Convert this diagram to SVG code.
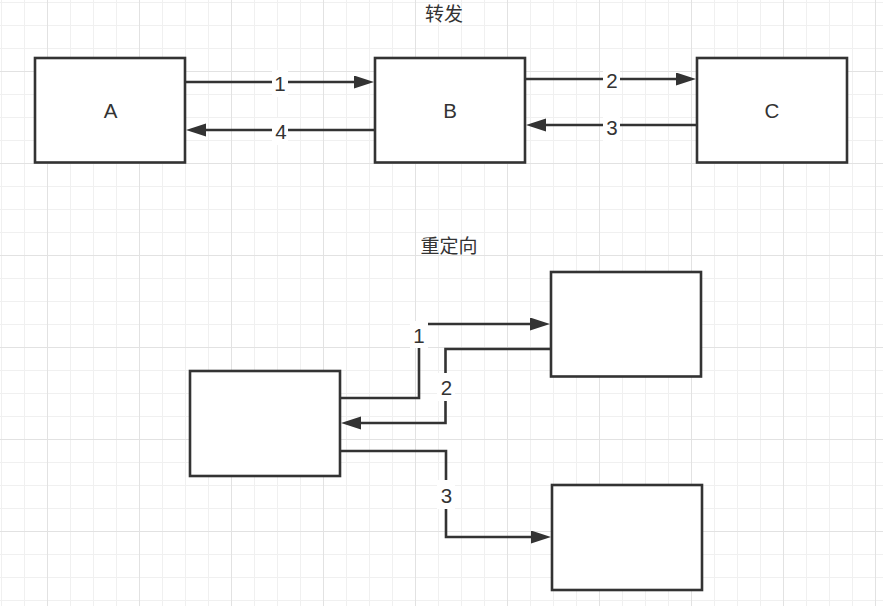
<svg xmlns="http://www.w3.org/2000/svg" width="883" height="606" viewBox="0 0 883 606">
  <style>
    .box { fill: #ffffff; stroke: #333333; stroke-width: 2.6; }
    .edge { fill: none; stroke: #333333; stroke-width: 2.6; stroke-linejoin: miter; }
    .lbl { font-family: "Liberation Sans", "Noto Sans CJK SC", sans-serif; font-size: 20.5px; fill: #333333; text-anchor: middle; }
    .ttl { font-family: "Noto Sans CJK SC", "Liberation Sans", sans-serif; font-size: 19px; fill: #333333; text-anchor: middle; }
    .bg { fill: #ffffff; }
  </style>
  <defs>
    <pattern id="grid" patternUnits="userSpaceOnUse" x="1" y="2" width="92" height="92">
      <rect x="0" y="0" width="1" height="92" fill="#f0f0f0"/>
      <rect x="23" y="0" width="1" height="92" fill="#f0f0f0"/>
      <rect x="69" y="0" width="1" height="92" fill="#f0f0f0"/>
      <rect x="0" y="0" width="92" height="1" fill="#f0f0f0"/>
      <rect x="0" y="23" width="92" height="1" fill="#f0f0f0"/>
      <rect x="0" y="46" width="92" height="1" fill="#f0f0f0"/>
      <rect x="46" y="0" width="1" height="92" fill="#e2e2e2"/>
      <rect x="0" y="69" width="92" height="1" fill="#e2e2e2"/>
    </pattern>
    <marker id="arrow" markerUnits="userSpaceOnUse" markerWidth="20" markerHeight="14" refX="10" refY="6.5" orient="auto">
      <path d="M0,0 L20,6.5 L0,13 Z" fill="#333333"/>
    </marker>
  </defs>

  <rect x="0" y="0" width="883" height="606" fill="#ffffff"/>
  <rect x="0" y="0" width="883" height="606" fill="url(#grid)"/>

  <g id="titles">
    <text class="ttl" x="444" y="21">转发</text>
    <text class="ttl" x="449" y="253">重定向</text>
  </g>

  <g id="node-A">
    <rect class="box" x="35" y="58" width="150" height="104.5"/>
    <text class="lbl" x="110.5" y="118">A</text>
  </g>
  <g id="node-B">
    <rect class="box" x="375" y="58" width="150" height="104.5"/>
    <text class="lbl" x="450" y="118">B</text>
  </g>
  <g id="node-C">
    <rect class="box" x="697" y="58" width="150" height="104.5"/>
    <text class="lbl" x="772" y="118">C</text>
  </g>
  <g id="node-client">
    <rect class="box" x="190" y="371" width="150" height="105"/>
  </g>
  <g id="node-server1">
    <rect class="box" x="551" y="272" width="150" height="104.5"/>
  </g>
  <g id="node-server2">
    <rect class="box" x="552" y="485" width="150" height="105"/>
  </g>

  <g id="connectors">
    <path class="edge" d="M186,82 H364" marker-end="url(#arrow)"/>
    <path class="edge" d="M374,130 H196" marker-end="url(#arrow)"/>
    <path class="edge" d="M526,79 H686" marker-end="url(#arrow)"/>
    <path class="edge" d="M696,125 H536" marker-end="url(#arrow)"/>

    <path class="edge" d="M341,398 H419 V324 H540" marker-end="url(#arrow)"/>
    <path class="edge" d="M550,349 H445.5 V423 H351" marker-end="url(#arrow)"/>
    <path class="edge" d="M341,451 H446 V537 H541" marker-end="url(#arrow)"/>

    <rect class="bg" x="272" y="70" width="16" height="27"/>
    <text class="lbl" x="280" y="91">1</text>
    <rect class="bg" x="272" y="118" width="16" height="27"/>
    <text class="lbl" x="281" y="139">4</text>
    <rect class="bg" x="603" y="67" width="17" height="27"/>
    <text class="lbl" x="612" y="88">2</text>
    <rect class="bg" x="603" y="114" width="17" height="27"/>
    <text class="lbl" x="612" y="135">3</text>

    <rect class="bg" x="410" y="321" width="18" height="27"/>
    <text class="lbl" x="419" y="342.5">1</text>
    <rect class="bg" x="437" y="373" width="18" height="28"/>
    <text class="lbl" x="446.5" y="395">2</text>
    <rect class="bg" x="437" y="480" width="18" height="29"/>
    <text class="lbl" x="446.5" y="503">3</text>
  </g>
</svg>
